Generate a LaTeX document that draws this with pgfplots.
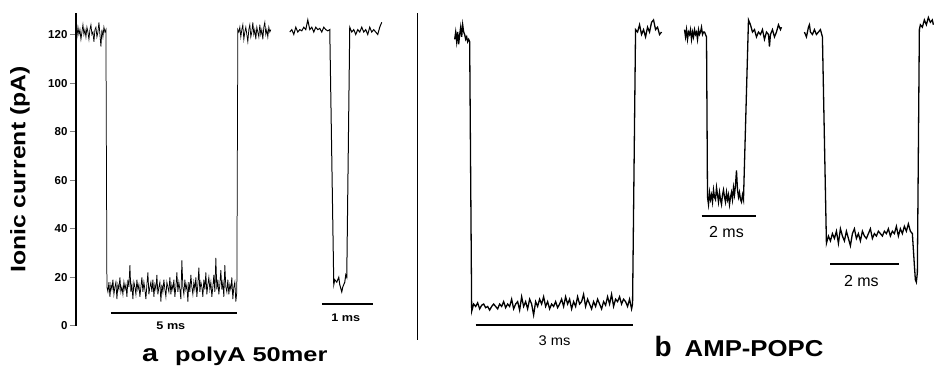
\documentclass[border=0pt]{standalone}
\usepackage{graphicx}
\usepackage{fontspec}
\setmainfont{Liberation Sans}
\usepackage{pgfplots}
\pgfplotsset{compat=1.18}
\begin{document}
\begin{tikzpicture}
\begin{axis}[
  scale only axis, width=858pt, height=313pt,
  xmin=76, xmax=934, ymin=0, ymax=128.8,
  axis x line=none, axis y line*=left,
  y axis line style={-, line width=1.5pt},
  ytick={0,20,40,60,80,100,120},
  tick align=outside, major tick length=6pt,
  ytick style={line width=1pt},
  /pgf/number format/assume math mode=true,
  yticklabel style={font=\bfseries\fontsize{11.5}{11.5}\selectfont, xshift=1pt},
  every axis y label/.style={at={(rel axis cs:-0.0653,0.5)}, rotate=90, anchor=center,
    font=\bfseries\fontsize{21}{21}\selectfont},
  ylabel={\scalebox{1.18}[1]{Ionic current (pA)}},
  clip=false,
]
% bounding frame of the reference picture
\path (axis cs:0,134.2) rectangle (axis cs:934,-18.5);
% ---- panel a, trace 1
\addplot[black, line width=0.75pt] table {
x y
76 121
77 119
78 123
79 120
80 122
81 118
82 121
83 124
84 120
85 122
86 119
87 123
88 121
89 118
90 122
91 124
92 120
93 121
94 117
95 122
96 123
97 119
98 121
99 125
100 120
101 115
102 122
103 119
104 123
105 121
106 122
107 16
108 14
109 18
110 12
111 17
112 15
113 19
114 13
115 16
116 18
117 11
118 17
119 15
120 20
121 14
122 16
123 13
124 18
125 15
126 17
127 12
128 19
129 16
130 25
131 14
132 17
133 11
134 18
135 16
136 13
137 19
138 15
139 17
140 12
141 16
142 20
143 14
144 18
145 15
146 11
147 17
148 22
149 13
150 16
151 18
152 14
153 19
154 12
155 17
156 15
157 21
158 13
159 16
160 18
161 10
162 17
163 14
164 19
165 15
166 12
167 18
168 16
169 14
170 20
171 13
172 17
173 15
174 19
175 12
176 16
177 22
178 14
179 18
180 15
181 11
182 27
183 16
184 13
185 19
186 15
187 17
188 10
189 18
190 14
191 21
192 16
193 13
194 18
195 15
196 20
197 12
198 17
199 24
200 14
201 18
202 16
203 12
204 19
205 15
206 22
207 13
208 17
209 20
210 15
211 18
212 12
213 16
214 21
215 14
216 28
217 15
218 19
219 13
220 17
221 23
222 15
223 18
224 12
225 25
226 16
227 14
228 19
229 13
230 17
231 15
232 20
233 11
234 16
235 18
236 10
237 14
238 122
239 121
240 123
241 119
242 122
243 124
244 118
245 121
246 123
247 120
248 117
249 122
250 124
251 119
252 121
253 125
254 120
255 122
256 118
257 123
258 121
259 119
260 124
261 120
262 122
263 118
264 123
265 125
266 120
267 122
268 119
269 123
270 121
271 122
};
% ---- panel a, trace 2
\addplot[black, line width=1pt] table {
x y
290 121
292 122
294 120
296 123
298 121
300 122
302 121.5
304 123
306 122
308 126
310 122
312 123
314 121
316 123
318 122
320 122.5
322 121
324 123
326 122
328 121.5
330 122
334 17
335 19
337 18
339 20
340 17
342 14
343 16
345 18
346 21
347 20
350 123
352 121
354 122
356 120
358 122
360 121
362 123
364 121
366 122
368 120
370 123
372 121
374 122
376 121
378 120
380 123
382 125
};
% ---- panel b, trace 1
\addplot[black, line width=1.3pt] table {
x y
455 118
456 121
457 117
458 121
459 116
460 120
461 123
462 119
463 124
464 121
465 120
466 118
467 119
468 117
469 118
470 117
472 6
474 9
476 8
478 9.5
480 7
482 8.5
484 9
486 7.5
488 8
490 6.5
492 8
494 9
496 8
498 7
500 9
502 8
504 10
506 7.5
508 9
510 8
512 11
514 7
516 9
518 10
520 6.5
522 12
524 8
526 10
528 7
530 11
532 9
534 4.5
536 10
538 8
540 11
542 9
544 12
546 8
548 10
550 7
552 9
554 8
556 10
558 7.5
560 9
562 11
564 8
566 12
568 9
570 11
572 7
574 10
576 8
578 12
580 9
582 10
584 13
586 8
588 11
590 9
592 7
594 10
596 8
598 11
600 9
602 7
604 10
606 8.5
608 12
610 9
612 13
614 8
616 11
618 10
620 12
622 9
624 11
626 10
628 8
630 11
632 7
633 9
636 122
638 121
640 124
642 120
644 122
646 119
648 123
650 121
652 125
654 126
656 122
658 123
660 120
662 121
};
% ---- panel b, trace 2
\addplot[black, line width=1.3pt] table {
x y
685 122
686 119
687 122
688 118
689 121
690 120
691 122
692 118
693 121
694 119
695 122
696 120
697 121
698 118
699 122
700 120
701 121
702 123
703 120
704 121
705 121
706 120
707 119
708 53
709 50
710 55
711 52
712 54
713 51
714 56
715 53
716 52
717 57
718 54
719 51
720 55
721 52
722 50
723 54
724 56
725 53
726 51
727 55
728 52
729 54
730 50
731 53
732 55
733 52
734 57
735 54
736 58
737 64
738 56
739 53
740 55
741 52
742 51
743 54
744 52
749 126
751 124
753 121
755 122
757 119
759 121
761 120
763 122
765 118
767 121
769 120
770 115
771 120
773 122
775 119
777 121
779 124
781 122
782 123
};
% ---- panel b, trace 3
\addplot[black, line width=1.3pt] table {
x y
805 121
807 119
809 123
810 124
811 121
813 120
815 122
817 120
819 121
821 122
823 119
827 34
829 37
831 35
833 38
835 36
837 39
839 34
841 40
843 37
845 35
847 39
849 36
851 33
853 38
855 40
857 36
859 38
861 35
863 39
865 37
867 36
869 38
871 40
873 36
875 38
877 37
879 39
881 38
883 37
885 39
887 38
889 40
891 37
893 39
895 38
897 41
899 37
901 40
903 38
905 41
907 39
909 42
911 39
913 38
915 25
916 19
917 18
918 22
920 122
921 124
923 123
925 126
927 124
929 127
931 125
933 126
934 124
};
% ---- scale bars
\addplot[black, line width=2pt] coordinates {(111,5.35) (237,5.35)};
\addplot[black, line width=2pt] coordinates {(322,9.05) (373,9.05)};
\addplot[black, line width=1.8pt] coordinates {(476,0.4) (633,0.4)};
\addplot[black, line width=1.8pt] coordinates {(702,45.3) (757,45.3)};
\addplot[black, line width=1.8pt] coordinates {(831,25.5) (900,25.5)};
% ---- separator
\addplot[black, line width=1.5pt] coordinates {(418,128.8) (418,-5.8)};
% ---- labels
\node[font=\bfseries\fontsize{11}{11}\selectfont] at (axis cs:171,0) {\scalebox{1.15}[1]{5 ms}};
\node[font=\bfseries\fontsize{11}{11}\selectfont] at (axis cs:346,3.3) {\scalebox{1.15}[1]{1 ms}};
\node[font=\fontsize{14}{14}\selectfont] at (axis cs:555,-6.2) {\scalebox{1.05}[1]{3 ms}};
\node[font=\fontsize{16}{16}\selectfont] at (axis cs:727,38.5) {2 ms};
\node[font=\fontsize{16}{16}\selectfont] at (axis cs:862,18.5) {2 ms};
\node[font=\bfseries\fontsize{24}{24}\selectfont, anchor=base west, inner sep=0pt] at (axis cs:142,-14.8) {\scalebox{1.2}[1]{a}};
\node[font=\bfseries\fontsize{20}{20}\selectfont, anchor=base west, inner sep=0pt] at (axis cs:175,-14.8) {\scalebox{1.27}[1]{polyA 50mer}};
\node[font=\bfseries\fontsize{28}{28}\selectfont, anchor=base west, inner sep=0pt] at (axis cs:655,-12.8) {b};
\node[font=\bfseries\fontsize{23}{23}\selectfont, anchor=base west, inner sep=0pt] at (axis cs:685,-12.8) {\scalebox{1.12}[1]{AMP-POPC}};
\end{axis}
\end{tikzpicture}
\end{document}
